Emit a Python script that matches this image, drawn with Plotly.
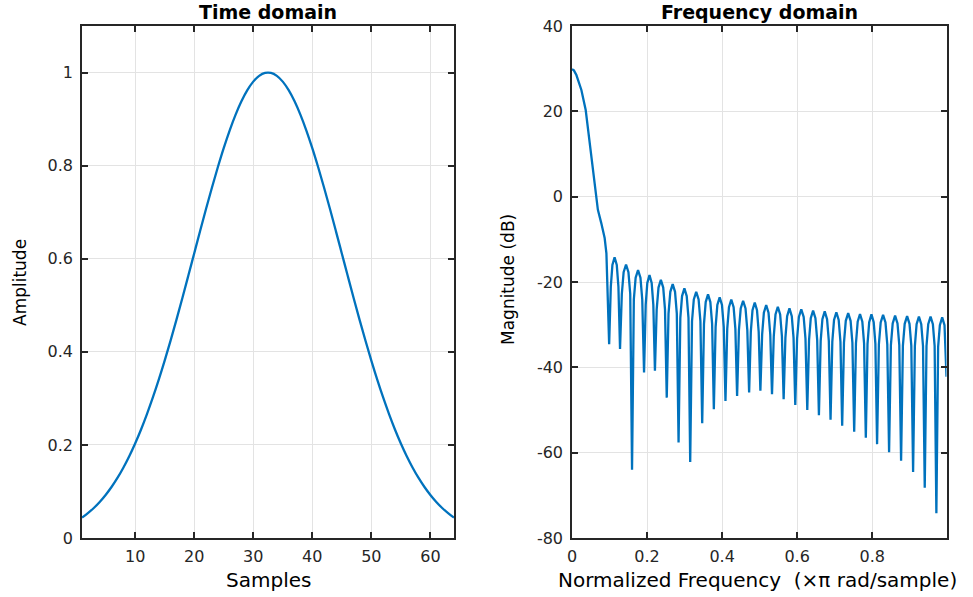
import plotly.graph_objects as go

# Time domain: 64-point window, amplitude per sample
sample_index = list(range(1, 65))
amplitude = [
    0.0439, 0.0534, 0.0645, 0.0774, 0.0924, 0.1095, 0.1290, 0.1510,
    0.1756, 0.2030, 0.2332, 0.2662, 0.3019, 0.3403, 0.3812, 0.4242,
    0.4692, 0.5157, 0.5633, 0.6114, 0.6594, 0.7067, 0.7526, 0.7965,
    0.8376, 0.8754, 0.9091, 0.9382, 0.9622, 0.9805, 0.9929, 0.9992,
    0.9992, 0.9929, 0.9805, 0.9622, 0.9382, 0.9091, 0.8754, 0.8376,
    0.7965, 0.7526, 0.7067, 0.6594, 0.6114, 0.5633, 0.5157, 0.4692,
    0.4242, 0.3812, 0.3403, 0.3019, 0.2662, 0.2332, 0.2030, 0.1756,
    0.1510, 0.1290, 0.1095, 0.0924, 0.0774, 0.0645, 0.0534, 0.0439,
]

# Frequency domain: normalized frequency (x pi rad/sample) and magnitude (dB)
# main lobe, then one line per side lobe (null, shoulders, peak, shoulders)
freq_norm = [
    0.0, 0.005, 0.0117, 0.025, 0.0365, 0.047, 0.058, 0.069, 0.078, 0.087, 0.0917, 0.0944, 0.096,
    0.099, 0.1034, 0.1077, 0.1135, 0.1193, 0.1237,
    0.128, 0.1328, 0.1376, 0.144, 0.1504, 0.1552,
    0.160, 0.1648, 0.1696, 0.176, 0.1824, 0.1872,
    0.192, 0.1964, 0.2007, 0.2065, 0.2123, 0.2167,
    0.221, 0.2257, 0.2305, 0.2368, 0.2431, 0.2478,
    0.2525, 0.2572, 0.262, 0.2683, 0.2746, 0.2793,
    0.284, 0.2887, 0.2933, 0.2995, 0.3057, 0.3104,
    0.315, 0.3198, 0.3246, 0.331, 0.3374, 0.3422,
    0.347, 0.3517, 0.3563, 0.3625, 0.3687, 0.3734,
    0.378, 0.3827, 0.3873, 0.3935, 0.3997, 0.4044,
    0.409, 0.4137, 0.4183, 0.4245, 0.4307, 0.4354,
    0.440, 0.4448, 0.4496, 0.456, 0.4624, 0.4672,
    0.472, 0.4765, 0.481, 0.487, 0.493, 0.4975,
    0.502, 0.5067, 0.5113, 0.5175, 0.5237, 0.5284,
    0.533, 0.5377, 0.5423, 0.5485, 0.5547, 0.5594,
    0.564, 0.5687, 0.5733, 0.5795, 0.5857, 0.5904,
    0.595, 0.5998, 0.6046, 0.611, 0.6174, 0.6222,
    0.627, 0.6317, 0.6363, 0.6425, 0.6487, 0.6534,
    0.658, 0.6627, 0.6673, 0.6735, 0.6797, 0.6844,
    0.689, 0.6937, 0.6983, 0.7045, 0.7107, 0.7154,
    0.720, 0.7248, 0.7296, 0.736, 0.7424, 0.7472,
    0.752, 0.7567, 0.7613, 0.7675, 0.7737, 0.7784,
    0.783, 0.7875, 0.792, 0.798, 0.804, 0.8085,
    0.813, 0.8178, 0.8226, 0.829, 0.8354, 0.8402,
    0.845, 0.8498, 0.8546, 0.861, 0.8674, 0.8722,
    0.877, 0.8818, 0.8866, 0.893, 0.8994, 0.9042,
    0.909, 0.9137, 0.9183, 0.9245, 0.9307, 0.9354,
    0.940, 0.9447, 0.9493, 0.9555, 0.9617, 0.9664,
    0.971, 0.9757, 0.9803, 0.9865, 0.9927, 0.998,
]
magnitude_db = [
    29.9, 29.6, 28.5, 25.0, 20.3, 12.5, 4.7, -3.1, -6.2, -9.7, -13.3, -19.5, -27.3,
    -34.6, -21.1, -16.0, -14.2, -16.0, -21.1,
    -35.7, -22.8, -17.7, -15.9, -17.7, -22.8,
    -64.0, -24.1, -19.0, -17.2, -19.0, -24.1,
    -41.2, -25.3, -20.2, -18.4, -20.2, -25.3,
    -40.8, -26.4, -21.3, -19.5, -21.3, -26.4,
    -47.1, -27.4, -22.3, -20.5, -22.3, -27.4,
    -57.6, -28.4, -23.3, -21.5, -23.3, -28.4,
    -62.2, -29.2, -24.1, -22.3, -24.1, -29.2,
    -53.1, -29.8, -24.7, -22.9, -24.7, -29.8,
    -49.8, -30.5, -25.4, -23.6, -25.4, -30.5,
    -47.9, -31.0, -25.9, -24.1, -25.9, -31.0,
    -46.7, -31.3, -26.2, -24.4, -26.2, -31.3,
    -45.9, -31.7, -26.6, -24.8, -26.6, -31.7,
    -45.5, -32.3, -27.2, -25.4, -27.2, -32.3,
    -46.3, -32.7, -27.6, -25.8, -27.6, -32.7,
    -47.5, -33.1, -28.0, -26.2, -28.0, -33.1,
    -48.8, -33.3, -28.2, -26.4, -28.2, -33.3,
    -50.0, -33.6, -28.5, -26.7, -28.5, -33.6,
    -51.2, -33.8, -28.7, -26.9, -28.7, -33.8,
    -52.3, -34.0, -28.9, -27.1, -28.9, -34.0,
    -53.7, -34.2, -29.1, -27.3, -29.1, -34.2,
    -55.1, -34.4, -29.3, -27.5, -29.3, -34.4,
    -56.5, -34.5, -29.4, -27.6, -29.4, -34.5,
    -58.0, -34.6, -29.5, -27.7, -29.5, -34.6,
    -59.9, -34.8, -29.7, -27.9, -29.7, -34.8,
    -61.9, -34.9, -29.8, -28.0, -29.8, -34.9,
    -64.5, -35.0, -29.9, -28.1, -29.9, -35.0,
    -68.2, -35.0, -29.9, -28.1, -29.9, -35.0,
    -74.2, -35.2, -30.1, -28.3, -30.1, -42.2,
]

time_ticks = [10, 20, 30, 40, 50, 60]
amp_ticks = [0, 0.2, 0.4, 0.6, 0.8, 1]
amp_ticktext = ['0', '0.2', '0.4', '0.6', '0.8', '1']
freq_ticks = [0, 0.2, 0.4, 0.6, 0.8]
freq_ticktext = ['0', '0.2', '0.4', '0.6', '0.8']
db_ticks = [-80, -60, -40, -20, 0, 20, 40]
db_ticktext = ['-80', '-60', '-40', '-20', '0', '20', '40']

W, H = 973, 597
line_colour = '#0072BD'
axis_colour = '#262626'
grid_colour = '#e3e3e3'
font_family = 'DejaVu Sans'


def fx(px):
    return px / W


def fy(py):
    return 1 - py / H


fig = go.Figure()
fig.add_trace(go.Scatter(
    x=sample_index, y=amplitude, mode='lines',
    line=dict(color=line_colour, width=2.3, shape='spline'),
    xaxis='x', yaxis='y', showlegend=False
))
fig.add_trace(go.Scatter(
    x=freq_norm, y=magnitude_db, mode='lines',
    line=dict(color=line_colour, width=2.3),
    xaxis='x2', yaxis='y2', showlegend=False
))

axis_style = dict(
    showline=True, linecolor=axis_colour, linewidth=1.5, mirror='ticks',
    ticks='inside', ticklen=6, tickwidth=1.5, tickcolor=axis_colour,
    showgrid=True, gridcolor=grid_colour, gridwidth=1, zeroline=False,
    tickfont=dict(family=font_family, size=16, color=axis_colour),
    tickmode='array', automargin=False,
)

y_dom = [fy(538), fy(26)]
fig.update_layout(
    template='none',
    width=W, height=H,
    margin=dict(l=0, r=0, t=0, b=0, autoexpand=False),
    paper_bgcolor='white', plot_bgcolor='white',
    xaxis=dict(axis_style, domain=[fx(82), fx(454)], range=[1, 64],
               tickvals=time_ticks, ticklabelstandoff=3),
    yaxis=dict(axis_style, domain=y_dom, range=[0, 1.1],
               tickvals=amp_ticks, ticktext=amp_ticktext, ticklabelstandoff=4),
    xaxis2=dict(axis_style, domain=[fx(572), fx(946.5)], range=[0, 0.998],
                tickvals=freq_ticks, ticktext=freq_ticktext, ticklabelstandoff=3,
                anchor='y2'),
    yaxis2=dict(axis_style, domain=y_dom, range=[-80, 40],
                tickvals=db_ticks, ticktext=db_ticktext, ticklabelstandoff=4,
                anchor='x2'),
)


def label(text, px, py, size, angle=0):
    fig.add_annotation(
        text=text, xref='paper', yref='paper', x=fx(px), y=fy(py),
        xanchor='center', yanchor='middle', showarrow=False, textangle=angle,
        font=dict(family=font_family, size=size, color='black'),
    )


label('<b>Time domain</b>', 268, 12, 19)
label('<b>Frequency domain</b>', 759, 12, 19)
label('Samples', 268, 580, 20)
label('Normalized Frequency\u00a0\u00a0(×π rad/sample)', 757, 580, 20)
label('Amplitude', 20, 283, 17, angle=-90)
label('Magnitude (dB)', 508, 280, 17, angle=-90)

# drop the default 8px body margin so the figure fills the window from its corner
fig.write_html(
    "out.html",
    config={'displayModeBar': False},
    post_script="document.body.style.margin = '0px';",
)
